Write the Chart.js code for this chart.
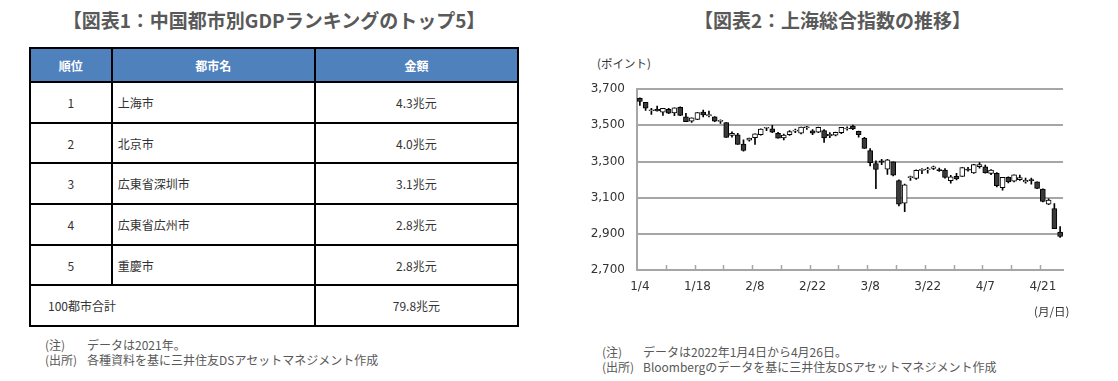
<!DOCTYPE html>
<html lang="ja">
<head>
<meta charset="utf-8">
<script src="https://cdn.jsdelivr.net/npm/chart.js@4.4.1/dist/chart.umd.min.js"></script>
<style>
  html, body { margin:0; padding:0; background:#fff; }
  body { width:1118px; height:381px; position:relative; overflow:hidden;
         font-family:"Noto Sans CJK JP","Noto Sans",sans-serif; color:#333; }
  .title { position:absolute; font-weight:bold; font-size:19px; color:#595959; text-align:center; line-height:24px; white-space:nowrap; }
  table { position:absolute; left:29px; top:47px; border-collapse:collapse; width:490px; font-size:12px; }
  th, td { border:2px solid #000; padding:0; }
  th { background:#4F81BD; color:#fff; font-weight:bold; height:32px; }
  td { height:38.7px; }
  td.c { text-align:center; }
  td.l { text-align:left; padding-left:5px; }
  td.t { text-align:left; padding-left:17px; }
  .note { position:absolute; font-size:12px; color:#595959; line-height:15px; white-space:nowrap; }
  .note span { display:inline-block; }
  #chartBox { position:absolute; left:580px; top:70px; width:500px; height:240px; }
  .axisNote { position:absolute; font-size:11.5px; color:#333; white-space:nowrap; }
</style>
</head>
<body>
<div class="title" style="left:29px; top:8px; width:490px;">【図表1：中国都市別GDPランキングのトップ5】</div>
<table id="tbl"></table>
<div class="note" style="left:45px; top:337px;">
  <div><span style="width:42px">(注)</span>データは2021年。</div>
  <div><span style="width:42px">(出所)</span>各種資料を基に三井住友DSアセットマネジメント作成</div>
</div>

<div class="title" style="left:580px; top:8px; width:505px;">【図表2：上海総合指数の推移】</div>
<div class="axisNote" style="left:597px; top:55px;">(ポイント)</div>
<div id="chartBox"><canvas id="c" width="500" height="240"></canvas></div>
<div class="axisNote" style="left:1034px; top:303px;">(月/日)</div>
<div class="note" style="left:602px; top:344px;">
  <div><span style="width:41px">(注)</span>データは2022年1月4日から4月26日。</div>
  <div><span style="width:41px">(出所)</span>Bloombergのデータを基に三井住友DSアセットマネジメント作成</div>
</div>

<script>
// ---- Table data ----
const headers = ['順位', '都市名', '金額'];
const ranks = ['1', '2', '3', '4', '5'];
const cities = ['上海市', '北京市', '広東省深圳市', '広東省広州市', '重慶市'];
const amounts = ['4.3兆元', '4.0兆元', '3.1兆元', '2.8兆元', '2.8兆元'];
const totalLabel = '100都市合計';
const totalAmount = '79.8兆元';

// ---- Candlestick data (Shanghai Composite, 2022/1/4 - 4/26) ----
const dates = ['1/4','1/5','1/6','1/7','1/10','1/11','1/12','1/13','1/14','1/17',
  '1/18','1/19','1/20','1/21','1/24','1/25','1/26','1/27','1/28',
  '2/7','2/8','2/9','2/10','2/11','2/14','2/15','2/16','2/17','2/18','2/21',
  '2/22','2/23','2/24','2/25','2/28','3/1','3/2','3/3','3/4','3/7',
  '3/8','3/9','3/10','3/11','3/14','3/15','3/16','3/17','3/18','3/21',
  '3/22','3/23','3/24','3/25','3/28','3/29','3/30','3/31','4/1','4/6',
  '4/7','4/8','4/11','4/12','4/13','4/14','4/15','4/18','4/19','4/20',
  '4/21','4/22','4/25','4/26'];
const opens = [3649,3628,3581,3589,3573,3589,3569,3600,3547,3523,
  3533,3574,3554,3547,3522,3516,3444,3448,3397,
  3418,3432,3449,3484,3481,3456,3430,3448,3468,3457,3487,
  3470,3463,3471,3442,3446,3460,3480,3496,3467,3429,
  3360,3289,3304,3258,3298,3195,3070,3211,3206,3251,
  3253,3262,3256,3252,3194,3218,3218,3256,3237,3271,
  3270,3234,3234,3155,3213,3192,3199,3187,3197,3188,
  3147,3064,3040,2910];
const highs = [3652,3628,3594,3607,3594,3594,3597,3603,3566,3542,
  3570,3584,3579,3548,3531,3516,3464,3456,3420,
  3430,3453,3481,3489,3500,3461,3452,3471,3479,3491,3494,
  3476,3491,3476,3460,3463,3489,3492,3502,3468,3434,
  3372,3304,3312,3312,3298,3199,3175,3220,3254,3261,
  3268,3275,3264,3261,3224,3235,3267,3268,3284,3294,
  3281,3256,3239,3213,3216,3226,3225,3209,3208,3188,
  3149,3094,3068,2940];
const lows = [3610,3583,3560,3578,3555,3565,3554,3554,3521,3516,
  3531,3546,3546,3521,3511,3433,3434,3394,3357,
  3413,3395,3446,3471,3460,3429,3420,3445,3459,3452,3478,
  3448,3459,3405,3432,3442,3454,3473,3476,3434,3372,
  3276,3150,3282,3229,3220,3055,3023,3195,3201,3233,
  3235,3255,3245,3208,3180,3198,3218,3246,3234,3263,
  3236,3227,3160,3141,3181,3187,3196,3180,3175,3150,
  3076,3062,2928,2880];
const closes = [3632,3595,3586,3580,3594,3567,3597,3555,3521,3542,
  3570,3558,3555,3523,3524,3433,3456,3394,3361,
  3430,3453,3480,3486,3463,3429,3446,3466,3468,3491,3491,
  3457,3489,3430,3451,3462,3489,3484,3481,3448,3373,
  3294,3256,3296,3310,3224,3064,3171,3215,3251,3254,
  3260,3271,3250,3212,3215,3204,3267,3252,3283,3283,
  3237,3252,3167,3213,3187,3226,3211,3196,3194,3151,
  3080,3087,2929,2886];
const yTicks = [2700, 2900, 3100, 3300, 3500, 3700];
const labelEvery = 10;
const tickEvery = 5;

// ---- Build table ----
(function () {
  const t = document.getElementById('tbl');
  let h = '<colgroup><col style="width:82px"><col style="width:204px"><col style="width:204px"></colgroup>';
  h += '<tr>' + headers.map(x => '<th>' + x + '</th>').join('') + '</tr>';
  for (let i = 0; i < ranks.length; i++) {
    h += '<tr><td class="c">' + ranks[i] + '</td><td class="l">' + cities[i] +
         '</td><td class="c">' + amounts[i] + '</td></tr>';
  }
  h += '<tr><td class="t" colspan="2">' + totalLabel + '</td><td class="c">' + totalAmount + '</td></tr>';
  t.innerHTML = h;
})();

// ---- Chart ----
const bodies = opens.map((o, i) => [o, closes[i]]);
const wicks = lows.map((l, i) => [l, highs[i]]);
const bodyFill = opens.map((o, i) => closes[i] >= o ? '#ffffff' : '#3a3a3a');

const innerTicks = {
  id: 'innerTicks',
  afterDatasetsDraw(chart) {
    const xs = chart.scales.x, ctx = chart.ctx;
    const half = (xs.getPixelForValue(1) - xs.getPixelForValue(0)) / 2;
    const yb = chart.chartArea.bottom;
    ctx.save();
    ctx.strokeStyle = '#a6a6a6';
    ctx.lineWidth = 1.5;
    for (let i = tickEvery; i < dates.length; i += tickEvery) {
      const x = Math.round(xs.getPixelForValue(i) - half) + 0.5;
      ctx.beginPath();
      ctx.moveTo(x, yb);
      ctx.lineTo(x, yb - 5);
      ctx.stroke();
    }
    ctx.restore();
  }
};

new Chart(document.getElementById('c'), {
  type: 'bar',
  data: {
    labels: dates,
    datasets: [
      {
        label: 'body', data: bodies, order: 0,
        backgroundColor: bodyFill, borderColor: '#000', borderWidth: 1,
        borderSkipped: false, barThickness: 5, minBarLength: 1, grouped: false
      },
      {
        label: 'wick', data: wicks, order: 1,
        backgroundColor: '#000', borderWidth: 0,
        barThickness: 1, grouped: false
      }
    ]
  },
  options: {
    responsive: false,
    animation: false,
    layout: { padding: { left: 0, top: 18, right: 17, bottom: 0 } },
    plugins: { legend: { display: false }, tooltip: { enabled: false } },
    scales: {
      x: {
        type: 'category', offset: true,
        grid: { display: false, drawTicks: false },
        border: { display: true, color: '#a6a6a6', width: 2 },
        ticks: {
          autoSkip: false, maxRotation: 0, padding: 10,
          color: '#333', font: { family: 'DejaVu Sans', size: 12 },
          callback: (v, i) => (i % labelEvery === 0 ? dates[i] : '')
        },
        afterFit: s => { s.height = 40; }
      },
      y: {
        min: yTicks[0], max: yTicks[yTicks.length - 1],
        afterBuildTicks: s => { s.ticks = yTicks.map(v => ({ value: v })); },
        grid: { color: '#a6a6a6', lineWidth: 2, drawTicks: false },
        border: { display: true, color: '#a6a6a6', width: 2 },
        ticks: {
          padding: 12, color: '#333', font: { family: 'DejaVu Sans', size: 12 },
          callback: v => v.toLocaleString('en-US')
        },
        afterFit: s => { s.width = 57; }
      }
    }
  },
  plugins: [innerTicks]
});
</script>
</body>
</html>
